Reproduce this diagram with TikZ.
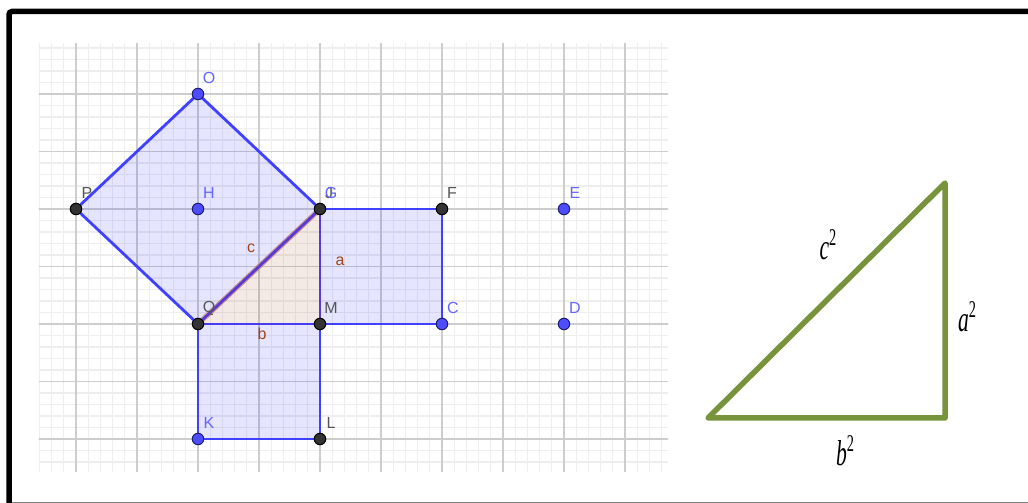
\documentclass[tikz,border=0pt]{standalone}
\usepackage{fontspec}
\setmainfont{Liberation Serif}
\setsansfont{Liberation Sans}
\definecolor{minorc}{RGB}{238,238,238}
\definecolor{majorc}{RGB}{205,205,205}
\definecolor{edgeb}{RGB}{64,64,255}
\definecolor{edgep}{RGB}{90,58,214}
\definecolor{edgehalo}{RGB}{190,120,100}
\definecolor{ptb}{RGB}{77,77,255}
\definecolor{ptbd}{RGB}{30,30,110}
\definecolor{ptd}{RGB}{51,51,51}
\definecolor{labb}{RGB}{100,100,255}
\definecolor{labd}{RGB}{85,85,85}
\definecolor{labbr}{RGB}{160,70,26}
\definecolor{tgreen}{RGB}{119,147,60}
\begin{document}
\begin{tikzpicture}[x=1pt,y=1pt,
  minorl/.style={draw=minorc, line width=1.1pt},
  majorl/.style={draw=majorc, line width=1.3pt},
  ptblue/.style={circle, fill=ptb, draw=ptbd, line width=1pt, inner sep=0pt, minimum size=11.5pt},
  ptdark/.style={circle, fill=ptd, draw=black, line width=1pt, inner sep=0pt, minimum size=11.5pt},
  lblb/.style={font=\sffamily\fontsize{16}{16}\selectfont, text=labb, inner sep=0pt},
  lbld/.style={font=\sffamily\fontsize{16}{16}\selectfont, text=labd, inner sep=0pt},
  lblbr/.style={font=\sffamily\fontsize{16}{16}\selectfont, text=labbr, inner sep=0pt},
  sqfill/.style={fill=blue, fill opacity=0.1},
  trifill/.style={fill={rgb,255:red,153;green,51;blue,0}, fill opacity=0.1},
  edgeline/.style={draw=edgeb, line width=2.8pt, line cap=round},
  edgepur/.style={draw=edgep, line width=2.8pt, line cap=round},
  haloline/.style={draw=edgehalo, line width=5pt, line cap=round, opacity=0.7},
  tline/.style={draw=tgreen, line width=5.5pt, line join=round, line cap=round},
  tlab/.style={font=\fontsize{36}{36}\selectfont, inner sep=0pt, text=black}]
\useasboundingbox (0,0) rectangle (1028,503);
\fill[white] (0,0) rectangle (1028,503);
% frame
\draw[line width=5.5pt, black, rounded corners=3pt] (9,-2) -- (9,491.5) -- (1032,491.5);
\draw[line width=1.5pt, gray] (12,0.6) -- (1028,0.6);
% grid
\begin{scope}[shift={(198,179)}, x=61pt, y=57.5pt]
  \clip (-2.607,-2.57) rectangle (7.705,4.87);
  \foreach \i in {-14,...,39} \draw[minorl] (\i/5,-3) -- (\i/5,5);
  \foreach \j in {-13,...,25} \draw[minorl] (-3,\j/5) -- (8,\j/5);
  \foreach \i in {-3,...,8} \draw[majorl] (\i,-3) -- (\i,5);
  \foreach \j in {-3,...,5} \draw[majorl] (-3,\j) -- (8,\j);
\end{scope}
% point positions
\begin{scope}[shift={(198,179)}, x=61pt, y=57.5pt]
  \coordinate (pO) at (0,4);
  \coordinate (pP) at (-2,2);
  \coordinate (pH) at (0,2);
  \coordinate (pG) at (2,2);
  \coordinate (pF) at (4,2);
  \coordinate (pE) at (6,2);
  \coordinate (pQ) at (0,0);
  \coordinate (pM) at (2,0);
  \coordinate (pC) at (4,0);
  \coordinate (pD) at (6,0);
  \coordinate (pK) at (0,-2);
  \coordinate (pL) at (2,-2);
\end{scope}
% fills
\fill[sqfill] (pO) -- (pP) -- (pQ) -- (pG) -- cycle;
\fill[sqfill] (pG) -- (pF) -- (pC) -- (pM) -- cycle;
\fill[sqfill] (pQ) -- (pM) -- (pL) -- (pK) -- cycle;
\fill[trifill] (pQ) -- (pM) -- (pG) -- cycle;
% edges
\draw[edgeline] (pO) -- (pP);
\draw[edgeline] (pP) -- (pQ);
\draw[edgeline] (pG) -- (pO);
\draw[edgeline] (pG) -- (pF);
\draw[edgeline] (pF) -- (pC);
\draw[edgeline] (pC) -- (pM);
\draw[edgeline] (pM) -- (pL);
\draw[edgeline] (pL) -- (pK);
\draw[edgeline] (pK) -- (pQ);
\draw[haloline] (pQ) -- (pG);
\draw[edgepur] (pQ) -- (pG);
\draw[edgepur] (pM) -- (pG);
\draw[draw={rgb,255:red,72;green,60;blue,240}, line width=2.8pt] (pQ) -- (pM);
% edge labels
\node[lblbr] (lc) at (251,255) {c};
\node[lblbr] (la) at (340,242) {a};
\node[lblbr] (lb) at (262,169) {b};
% points
\node[ptblue] (O) at (pO) {};
\node[ptdark] (P) at (pP) {};
\node[ptblue] (H) at (pH) {};
\node[ptdark] (G) at (pG) {};
\node[ptdark] (F) at (pF) {};
\node[ptblue] (E) at (pE) {};
\node[ptdark] (Q) at (pQ) {};
\node[ptdark] (M) at (pM) {};
\node[ptblue] (C) at (pC) {};
\node[ptblue] (D) at (pD) {};
\node[ptblue] (K) at (pK) {};
\node[ptdark] (L) at (pL) {};
% point labels
\node[lblb] (lO) at ([xshift=11pt,yshift=16pt]pO) {O};
\node[lbld] (lP) at ([xshift=11pt,yshift=16pt]pP) {P};
\node[lblb] (lH) at ([xshift=11pt,yshift=16pt]pH) {H};
\node[lbld] (lJ) at ([xshift=9pt,yshift=16pt]pG) {J};
\node[lblb] (lG) at ([xshift=11pt,yshift=16pt]pG) {G};
\node[lbld] (lF) at ([xshift=10pt,yshift=16pt]pF) {F};
\node[lblb] (lE) at ([xshift=11pt,yshift=16pt]pE) {E};
\node[lbld] (lQ) at ([xshift=11pt,yshift=16pt]pQ) {Q};
\node[lbld] (lM) at ([xshift=11pt,yshift=16pt]pM) {M};
\node[lblb] (lC) at ([xshift=11pt,yshift=16pt]pC) {C};
\node[lblb] (lD) at ([xshift=11pt,yshift=16pt]pD) {D};
\node[lblb] (lK) at ([xshift=11pt,yshift=16pt]pK) {K};
\node[lbld] (lL) at ([xshift=11pt,yshift=16pt]pL) {L};
% right triangle
\coordinate (T1) at (708,85);
\coordinate (T2) at (945,85);
\coordinate (T3) at (945,320);
\draw[tline] (T1) -- (T2) -- (T3) -- cycle;
\node[tlab] (c2) at (828,258) {\scalebox{0.6}[1]{\textit{c}\raisebox{0.4em}{\fontsize{24}{24}\selectfont 2}}};
\node[tlab] (a2) at (967,186) {\scalebox{0.6}[1]{\textit{a}\raisebox{0.4em}{\fontsize{24}{24}\selectfont 2}}};
\node[tlab] (b2) at (845,52) {\scalebox{0.6}[1]{\textit{b}\raisebox{0.4em}{\fontsize{24}{24}\selectfont 2}}};
\end{tikzpicture}
\end{document}
